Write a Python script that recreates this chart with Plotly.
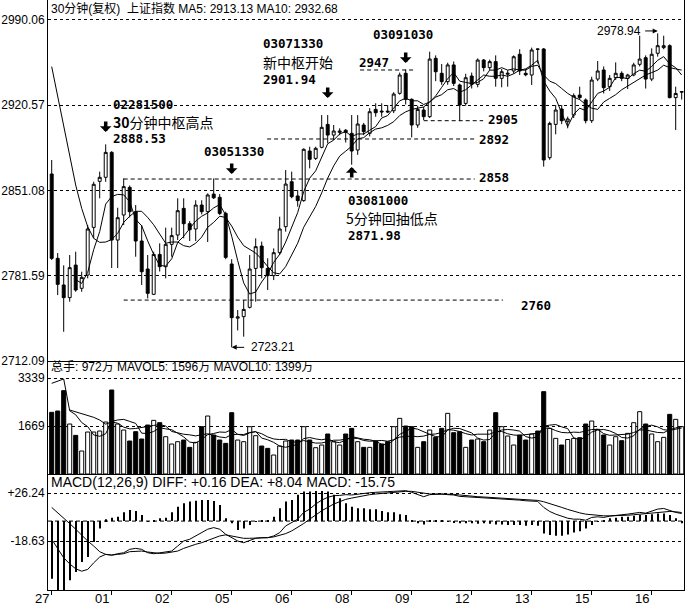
import plotly.graph_objects as go

# ---------------- data ----------------
day_labels = ["27", "01", "02", "05", "06", "08", "09", "12", "13", "15", "16"]

open_ = [2864.4, 2795.7, 2774.0, 2763.7, 2790.2, 2771.3, 2782.1, 2820.9, 2858.4, 2861.7,
         2882.0, 2810.6, 2831.0, 2853.5, 2833.7, 2809.8, 2787.0, 2766.4, 2798.9, 2788.9,
         2807.1, 2814.7, 2836.4, 2823.9, 2819.6, 2839.1, 2833.7, 2848.0, 2845.4, 2832.3,
         2791.1, 2747.0, 2748.2, 2755.8, 2787.5, 2805.7, 2787.5, 2781.6, 2800.3, 2821.5,
         2858.1, 2846.5, 2842.7, 2883.1, 2877.1, 2886.1, 2904.8, 2896.1, 2898.3, 2900.0,
         2897.5, 2883.9, 2904.3, 2897.5, 2917.0, 2915.6, 2915.6, 2915.9, 2930.1, 2946.4,
         2925.2, 2904.3, 2916.5, 2911.1, 2958.6, 2946.4, 2939.6, 2953.2, 2936.9, 2921.9,
         2944.2, 2937.4, 2957.2, 2951.0, 2955.9, 2942.3, 2945.6, 2948.3, 2961.9, 2946.4,
         2945.0, 2966.2, 2966.2, 2877.7, 2904.8, 2917.3, 2907.0, 2912.4, 2928.7, 2924.7,
         2907.8, 2941.7, 2949.1, 2935.5, 2942.8, 2946.4, 2942.3, 2945.0, 2953.7, 2959.1,
         2941.7, 2962.7, 2967.3, 2968.9, 2926.6, 2931.0]
high = [2875.8, 2800.0, 2790.0, 2798.4, 2801.1, 2784.8, 2822.8, 2858.1, 2866.3, 2888.53,
        2883.0, 2836.9, 2860.8, 2855.0, 2839.1, 2822.8, 2798.4, 2801.1, 2807.9, 2820.7,
        2820.7, 2844.6, 2844.6, 2826.0, 2843.0, 2843.0, 2848.6, 2860.8, 2848.0, 2833.7,
        2795.0, 2753.6, 2761.7, 2798.4, 2812.0, 2809.3, 2795.7, 2803.8, 2829.6, 2867.6,
        2866.3, 2851.4, 2885.3, 2886.6, 2886.6, 2912.4, 2912.4, 2904.3, 2901.6, 2901.0,
        2912.4, 2912.4, 2906.0, 2918.0, 2922.0, 2922.0, 2920.6, 2931.0, 2947.0, 2949.5,
        2926.0, 2920.0, 2919.0, 2964.0, 2961.0, 2954.0, 2955.0, 2956.0, 2938.0, 2946.0,
        2947.0, 2958.5, 2958.0, 2957.5, 2961.0, 2950.0, 2949.0, 2961.0, 2966.0, 2950.0,
        2967.3, 2966.5, 2967.0, 2907.0, 2920.6, 2920.6, 2911.1, 2930.0, 2935.5, 2926.0,
        2943.6, 2956.4, 2952.0, 2945.0, 2955.3, 2948.0, 2946.0, 2955.0, 2977.0, 2961.0,
        2966.7, 2978.94, 2977.0, 2970.0, 2935.5, 2931.5]
low = [2794.3, 2765.8, 2735.9, 2760.4, 2768.5, 2768.5, 2779.4, 2812.0, 2844.6, 2858.0,
       2787.8, 2787.8, 2822.8, 2829.0, 2797.0, 2774.0, 2763.1, 2765.8, 2785.0, 2779.4,
       2797.0, 2810.6, 2812.0, 2809.8, 2809.8, 2831.5, 2809.0, 2844.0, 2831.0, 2795.0,
       2723.21, 2737.0, 2731.9, 2754.9, 2760.4, 2779.4, 2769.9, 2778.0, 2798.4, 2817.4,
       2844.6, 2837.8, 2841.8, 2869.0, 2875.8, 2885.3, 2889.4, 2892.0, 2896.0, 2890.0,
       2871.98, 2880.0, 2896.0, 2895.0, 2911.0, 2911.0, 2914.0, 2914.0, 2929.0, 2921.0,
       2894.2, 2902.0, 2908.3, 2910.0, 2940.0, 2937.0, 2937.0, 2936.0, 2907.5, 2920.0,
       2934.0, 2935.0, 2948.0, 2949.0, 2935.5, 2935.0, 2935.5, 2946.0, 2945.0, 2944.0,
       2936.9, 2954.5, 2870.4, 2876.0, 2896.7, 2905.0, 2901.6, 2910.0, 2925.0, 2905.6,
       2906.0, 2940.0, 2930.0, 2932.0, 2941.0, 2940.0, 2933.6, 2944.0, 2952.0, 2934.0,
       2940.0, 2960.0, 2966.0, 2926.0, 2900.2, 2925.0]
close = [2795.7, 2774.5, 2763.7, 2788.1, 2769.9, 2780.2, 2819.6, 2856.0, 2861.7, 2882.0,
         2810.6, 2828.8, 2854.1, 2833.7, 2809.8, 2784.8, 2767.2, 2798.9, 2788.9, 2807.1,
         2814.2, 2834.5, 2823.9, 2819.0, 2839.1, 2833.7, 2847.3, 2845.0, 2832.3, 2796.5,
         2747.4, 2748.0, 2754.1, 2787.0, 2805.2, 2788.1, 2781.6, 2800.3, 2819.6, 2856.2,
         2845.9, 2842.7, 2884.5, 2876.3, 2885.3, 2902.4, 2896.1, 2899.4, 2899.4, 2898.3,
         2883.1, 2905.1, 2898.9, 2915.1, 2914.3, 2915.0, 2915.0, 2929.5, 2945.0, 2925.2,
         2904.3, 2917.0, 2911.1, 2958.0, 2947.7, 2939.6, 2953.2, 2938.2, 2920.6, 2942.8,
         2937.4, 2957.2, 2951.0, 2955.9, 2942.3, 2947.7, 2946.4, 2959.9, 2948.3, 2945.2,
         2965.4, 2966.0, 2875.8, 2905.6, 2916.5, 2907.8, 2909.2, 2928.2, 2926.6, 2907.8,
         2940.9, 2948.3, 2934.7, 2942.3, 2946.4, 2942.3, 2945.0, 2953.2, 2958.0, 2941.7,
         2961.9, 2968.9, 2968.9, 2926.6, 2930.0, 2931.5]
ma5 = [None, None, None, None, 2778.4, 2775.3, 2784.3, 2802.8, 2817.5, 2839.9,
       2846.0, 2847.8, 2847.4, 2841.8, 2827.4, 2822.2, 2809.9, 2798.9, 2789.9, 2789.4,
       2795.3, 2808.7, 2813.7, 2819.7, 2826.1, 2830.0, 2832.6, 2836.8, 2839.5, 2831.0,
       2813.7, 2793.8, 2775.7, 2766.6, 2768.3, 2776.5, 2783.2, 2792.4, 2799, 2809,
       2821, 2833, 2850, 2861, 2867, 2878, 2889, 2892, 2897, 2899,
       2895, 2897, 2897, 2900, 2903, 2910, 2912, 2918, 2924, 2926,
       2924, 2924, 2921, 2923, 2928, 2935, 2942, 2947, 2940, 2939,
       2938, 2939, 2942, 2949, 2949, 2951, 2949, 2950, 2949, 2950,
       2953, 2957, 2940, 2932, 2926, 2914, 2903, 2913, 2918, 2916,
       2923, 2930, 2932, 2935, 2943, 2943, 2942, 2946, 2949, 2948,
       2952, 2957, 2960, 2954, 2951, 2945]
ma10 = [2951.8, 2927.4, 2902.9, 2878.5, 2855.4, 2836.4, 2821.5, 2812.0, 2808.7, 2809,
        2811, 2816, 2825, 2830, 2834, 2834, 2829, 2823, 2816, 2808,
        2809, 2809, 2806, 2805, 2808, 2813, 2821, 2825, 2830, 2829,
        2822, 2813, 2806, 2803, 2800, 2795, 2789, 2784, 2783, 2789,
        2799, 2808, 2821, 2830, 2838, 2849, 2861, 2871, 2879, 2883,
        2887, 2893, 2894, 2898, 2901, 2902, 2904, 2907, 2912, 2915,
        2917, 2918, 2919, 2923, 2927, 2929, 2933, 2934, 2931, 2933,
        2937, 2941, 2945, 2944, 2944, 2945, 2944, 2946, 2949, 2949,
        2952, 2953, 2945, 2940, 2938, 2934, 2930, 2927, 2925, 2921,
        2918, 2917, 2923, 2926, 2929, 2933, 2936, 2939, 2942, 2945,
        2947, 2949, 2953, 2951, 2950, 2949]
volume = [2145, 2191, 2899, 1739, 1344, 799, 1460, 1460, 1495, 1808,
          2922, 1739, 1530, 1147, 1472, 1217, 1704, 1866, 1785, 1298,
          1043, 1124, 1182, 927, 1101, 1646, 2017, 1356, 1182, 1066,
          2133, 1182, 1124, 1646, 1333, 973, 892, 660, 973, 1147,
          1182, 1182, 1646, 1182, 915, 1008, 1391, 1124, 1008, 1391,
          1588, 1124, 927, 927, 1147, 1043, 1124, 1646, 1936, 1669,
          1646, 927, 1124, 1530, 1275, 1588, 2110, 1437, 1472, 927,
          1182, 1217, 1124, 1530, 2133, 1646, 1321, 1008, 1356, 1182,
          1391, 1495, 2864, 1588, 1240, 1008, 1200, 1240, 1263, 1739,
          1843, 1553, 1356, 1008, 1298, 1159, 1414, 1785, 2168, 1739,
          1391, 1124, 1275, 2075, 1901, 1646]
mavol5 = [3154, 3230, 3305, 2200, 2060, 1790, 1650, 1360, 1310, 1400,
          1830, 1880, 1900, 1830, 1760, 1420, 1410, 1480, 1610, 1570,
          1540, 1420, 1290, 1110, 1080, 1200, 1370, 1410, 1460, 1450,
          1550, 1380, 1340, 1430, 1480, 1250, 1190, 1100, 970, 930,
          970, 1030, 1230, 1270, 1220, 1190, 1230, 1120, 1090, 1180,
          1300, 1250, 1210, 1190, 1140, 1030, 1030, 1180, 1380, 1480,
          1600, 1560, 1460, 1380, 1300, 1290, 1530, 1590, 1580, 1510,
          1430, 1250, 1180, 1200, 1440, 1530, 1550, 1530, 1490, 1300,
          1250, 1290, 1660, 1700, 1720, 1640, 1580, 1260, 1190, 1290,
          1460, 1530, 1550, 1500, 1410, 1270, 1250, 1330, 1560, 1650,
          1700, 1640, 1540, 1520, 1550, 1600]
mavol10 = [None, None, None, 2226, 2168, 2110, 2052, 1971, 1878, 1734,
           1812, 1766, 1630, 1570, 1583, 1625, 1649, 1690, 1719, 1668,
           1480, 1419, 1384, 1362, 1325, 1368, 1399, 1348, 1288, 1264,
           1373, 1379, 1373, 1445, 1468, 1401, 1289, 1219, 1198, 1206,
           1111, 1111, 1163, 1117, 1075, 1079, 1129, 1175, 1178, 1203,
           1244, 1238, 1166, 1140, 1164, 1167, 1140, 1192, 1285, 1313,
           1319, 1299, 1319, 1379, 1392, 1446, 1545, 1524, 1478, 1404,
           1357, 1386, 1386, 1386, 1472, 1478, 1399, 1356, 1344, 1370,
           1391, 1419, 1593, 1598, 1509, 1445, 1433, 1456, 1447, 1503,
           1548, 1554, 1403, 1345, 1351, 1366, 1387, 1442, 1532, 1532,
           1487, 1444, 1436, 1543, 1603, 1652]
diff = [-17.0, -26.0, -34.3, -40.0, -44.6, -46.8, -45.2, -39.0, -33.6, -31.1,
        -31.8, -30.5, -29.6, -26.4, -25.5, -26.4, -29.6, -30.5, -29.9, -29.3,
        -28.0, -23.3, -18.6, -17.0, -13.9, -10.8, -7.6, -6.1, -7.6, -12.3,
        -15.5, -18.6, -20.2, -18.0, -16.1, -15.5, -15.5, -13.9, -10.8, -4.5,
        -1.3, 1.8, 8.1, 11.2, 15.9, 19.6, 22.2, 23.7, 24.0, 24.7,
        24.4, 25.3, 25.9, 26.5, 26.9, 26.9, 27.5, 27.8, 28.4, 28.4,
        26.9, 24.7, 22.8, 24.7, 25.3, 25.3, 24.7, 24.4, 23.1, 22.8,
        22.2, 22.2, 21.5, 21.2, 20.6, 20.6, 20.3, 20.3, 19.6, 19.0,
        19.0, 18.4, 12.8, 9.0, 6.5, 4.6, 2.7, 1.8, 1.8, 0.8,
        3.4, 4.0, 3.4, 4.6, 5.5, 5.9, 6.5, 7.1, 8.1, 7.4,
        9.6, 11.2, 11.8, 9.6, 8.1, 7.1]
dea = [12.8, 8.0, 3.4, -2.3, -7.6, -13.3, -18.6, -23.3, -28.6, -31.1,
       -31.8, -31.1, -30.5, -28.6, -28.0, -28.0, -28.9, -29.9, -30.2, -29.9,
       -29.3, -28.0, -25.5, -23.3, -21.7, -20.2, -18.0, -15.5, -13.9, -12.9,
       -13.9, -15.5, -16.1, -16.1, -16.1, -15.5, -15.5, -14.8, -13.3, -11.7,
       -9.2, -6.1, -2.3, 1.8, 5.9, 9.6, 12.8, 15.9, 18.1, 20.3,
       21.5, 22.8, 23.7, 24.7, 25.3, 25.9, 26.2, 26.9, 27.5, 27.8,
       27.8, 26.9, 25.9, 25.3, 25.3, 25.3, 25.3, 25.0, 24.4, 23.7,
       23.4, 22.8, 22.5, 22.2, 21.5, 21.2, 20.9, 20.6, 20.3, 20.0,
       19.6, 19.3, 18.1, 16.5, 14.6, 12.8, 10.9, 9.0, 7.7, 6.5,
       5.9, 5.2, 4.9, 4.9, 4.9, 5.2, 5.5, 5.9, 6.5, 6.8,
       7.4, 8.0, 9.0, 9.0, 8.7, 8.0]
macd_hist = [-54.0, -64.9, -64.9, -55.4, -47.6, -38.2, -33.6, -19.5, -6.9, 1.6,
             3.2, 4.1, 8.2, 10.4, 9.4, 5.6, -0.8, 0.9, 2.6, 3.2,
             8.2, 13.4, 16.6, 18.2, 19.1, 19.8, 19.8, 18.8, 15.0, 2.6,
             -2.1, -8.4, -6.9, -3.7, -0.8, 0.3, 0.6, 4.1, 11.9, 18.2,
             19.8, 24.5, 27.6, 27.6, 28.2, 28.2, 27.6, 24.5, 21.4, 16.6,
             13.4, 11.9, 11.9, 11.0, 11.0, 9.4, 8.2, 8.2, 6.3, 5.6,
             0.2, -2.1, -3.1, 0.2, 0.6, 0.2, -0.6, -1.2, -2.1, -2.1,
             -2.1, -2.5, -2.1, -2.5, -3.1, -3.1, -3.7, -3.7, -3.7, -4.4,
             -3.7, -4.4, -11.6, -13.1, -13.8, -13.8, -12.5, -10.6, -9.4, -6.9,
             -3.7, -0.6, 1.0, 2.6, 3.2, 4.1, 4.1, 5.0, 5.6, 5.6,
             6.3, 7.2, 7.2, 5.6, 2.6, -2.1]

price_ticks = [2712.09, 2781.59, 2851.08, 2920.57, 2990.06]
vol_ticks = [1669, 3339]
macd_ticks = [-18.63, 26.24]

header_price = "30分钟(复权)  上证指数 MA5: 2913.13 MA10: 2932.68"
header_vol = "总手: 972万 MAVOL5: 1596万 MAVOL10: 1399万"
header_macd = "MACD(12,26,9) DIFF: +0.16 DEA: +8.04 MACD: -15.75"

# support / resistance levels drawn as dashed lines: (label, level, from bar, to bar)
levels = [("2947", 2949.1, 51.4, 60.5), ("2905", 2907.8, 62.0, 71.9),
          ("2892", 2892.9, 35.9, 70.5), ("2858", 2860.3, 12.0, 70.5),
          ("2760", 2761.7, 12.0, 75.2)]

# ---------------- figure ----------------
N = len(close)
idx = list(range(N))
PLOT_H = 590.0
XR = [-0.617, 105.383]
LBL = "Liberation Sans, Arial, Noto Sans CJK SC, sans-serif"
CJK = "Noto Sans CJK SC, sans-serif"
MONO = "DejaVu Sans Mono, monospace"

fig = go.Figure()
fig.add_trace(go.Candlestick(
    x=idx, open=open_, high=high, low=low, close=close,
    increasing=dict(line=dict(color='black', width=1), fillcolor='white'),
    decreasing=dict(line=dict(color='black', width=1), fillcolor='black'),
    whiskerwidth=0, xaxis='x', yaxis='y', hoverinfo='skip'))
for s in (ma5, ma10):
    fig.add_trace(go.Scatter(x=idx, y=s, mode='lines', line=dict(color='black', width=1),
                             xaxis='x', yaxis='y', hoverinfo='skip'))

vol_colors = ['white' if cl >= op else 'black' for op, cl in zip(open_, close)]
fig.add_trace(go.Bar(x=idx, y=volume, width=0.68,
                     marker=dict(color=vol_colors, line=dict(color='black', width=1)),
                     xaxis='x2', yaxis='y2', hoverinfo='skip'))
for s in (mavol5, mavol10):
    fig.add_trace(go.Scatter(x=idx, y=s, mode='lines', line=dict(color='black', width=1),
                             xaxis='x2', yaxis='y2', hoverinfo='skip'))

fig.add_trace(go.Bar(x=idx, y=macd_hist, width=0.18, marker=dict(color='black', line=dict(width=0)),
                     xaxis='x3', yaxis='y3', hoverinfo='skip'))
for s in (diff, dea):
    fig.add_trace(go.Scatter(x=idx, y=s, mode='lines', line=dict(color='black', width=1),
                             xaxis='x3', yaxis='y3', hoverinfo='skip'))


def dom(top_px, bot_px):
    return [1 - bot_px / PLOT_H, 1 - top_px / PLOT_H]


xcommon = dict(range=XR, showgrid=False, zeroline=False, showline=True, linecolor='black',
               linewidth=1, fixedrange=True)
ycommon = dict(showgrid=True, griddash='dot', gridcolor='black', gridwidth=1, zeroline=False,
               showline=True, mirror=True, linecolor='black', linewidth=1, ticks='',
               tickfont=dict(family=LBL, size=12, color='black'), fixedrange=True)

fig.update_layout(
    width=687, height=606, margin=dict(l=48, r=3, t=0, b=16),
    paper_bgcolor='white', plot_bgcolor='white', showlegend=False, hovermode=False,
    xaxis=dict(**xcommon, anchor='y', showticklabels=False, rangeslider=dict(visible=False)),
    xaxis2=dict(**xcommon, anchor='y2', matches='x', showticklabels=False),
    xaxis3=dict(**xcommon, anchor='y3', matches='x', showticklabels=False, ticks='outside',
                ticklen=4, tickcolor='black', tickvals=list(range(0, N, 10))),
    yaxis=dict(**ycommon, domain=dom(0, 361), range=[2712.09, 3006.1],
               tickvals=price_ticks, ticktext=[f"{t:.2f}" for t in price_ticks]),
    yaxis2=dict(**ycommon, domain=dom(361, 474), range=[0, 3931],
                tickvals=vol_ticks, ticktext=[str(t) for t in vol_ticks]),
    yaxis3=dict(**ycommon, domain=dom(474, 590), range=[-64.4, 44.0],
                tickvals=macd_ticks, ticktext=[f"{t:+.2f}" for t in macd_ticks]),
)

# zero line of MACD
fig.add_shape(type='line', xref='paper', x0=0, x1=1, yref='y3', y0=0, y1=0,
              line=dict(color='black', width=1, dash='4px,3px'))

# panel headers
for txt_, ypx, fs in ((header_price, 8, 12), (header_vol, 367, 12), (header_macd, 482, 14)):
    fig.add_annotation(xref='paper', yref='paper', x=0.002, y=1 - ypx / PLOT_H, xanchor='left',
                       yanchor='middle', text=txt_, showarrow=False,
                       font=dict(family=LBL, size=fs, color='black'))

# x tick labels
for k, lab in enumerate(day_labels):
    fig.add_annotation(xref='x3', yref='paper', x=k * 10, y=1 - 598 / PLOT_H, xanchor='right',
                       yanchor='middle', text=lab, showarrow=False, xshift=-1,
                       font=dict(family=LBL, size=13, color='black'))

# dashed support / resistance lines with their labels
label_pos = {"2947": (51.0, 2955.6), "2905": (72.5, 2908.4), "2892": (71.0, 2892.1),
             "2858": (71.0, 2861.5), "2760": (78.0, 2757.6)}
for lab, lev, x0, x1 in levels:
    fig.add_shape(type='line', xref='x', yref='y', x0=x0, x1=x1, y0=lev, y1=lev,
                  line=dict(color='black', width=1, dash='4px,3px'))
    lx, ly = label_pos[lab]
    fig.add_annotation(xref='x', yref='y', x=lx, y=ly, xanchor='left', yanchor='middle',
                       text=f"<b>{lab}</b>", showarrow=False, borderpad=0,
                       font=dict(family=MONO, size=12.5, color='black'))


def txt(x, y, s, family=MONO, size=12.5, anchor='left'):
    fig.add_annotation(xref='x', yref='y', x=x, y=y, xanchor=anchor, yanchor='middle',
                       text=s, showarrow=False, borderpad=0,
                       font=dict(family=family, size=size, color='black'))


def big_arrow(x, y, down=True):
    fig.add_annotation(xref='x', yref='y', x=x, y=y, ax=0, ay=-12 if down else 12,
                       showarrow=True, arrowhead=1, arrowsize=0.55, arrowwidth=3.5,
                       arrowcolor='black', standoff=0, text='')


# marked points
txt(10.05, 2921.4, "<b>02281500</b>")
txt(10.05, 2907.1, "<b>30</b>分钟中枢高点", family=CJK, size=14)
txt(10.05, 2892.9, "<b>2888.53</b>")
big_arrow(9, 2898.6)

txt(25.2, 2882.7, "<b>03051330</b>")
big_arrow(30, 2864.4)

txt(35.05, 2970.3, "<b>03071330</b>")
txt(35.05, 2956.0, "新中枢开始", family=CJK, size=14)
txt(35.05, 2941.7, "<b>2901.94</b>")
big_arrow(46, 2926.3)

txt(49.2, 2843.2, "<b>03081000</b>")
txt(48.9, 2828.9, "5分钟回抽低点", family=CJK, size=14)
txt(49.2, 2814.7, "<b>2871.98</b>")
big_arrow(50, 2870.1, down=False)

txt(53.4, 2977.6, "<b>03091030</b>")
big_arrow(59, 2954.8)

# extreme values
fig.add_annotation(xref='x', yref='y', x=30, y=2723.21, ax=14, ay=0, showarrow=True,
                   arrowhead=2, arrowsize=1, arrowwidth=1, arrowcolor='black', standoff=0, text='')
txt(33.0, 2723.4, "2723.21", family=LBL, size=12)
fig.add_annotation(xref='x', yref='y', x=101, y=2980.9, ax=-14, ay=0, showarrow=True,
                   arrowhead=2, arrowsize=1, arrowwidth=1, arrowcolor='black', standoff=0, text='')
txt(98.4, 2980.9, "2978.94", family=LBL, size=12, anchor='right')

fig.write_html("out.html", config={"displayModeBar": False},
               post_script="document.body.style.margin='0px';")
